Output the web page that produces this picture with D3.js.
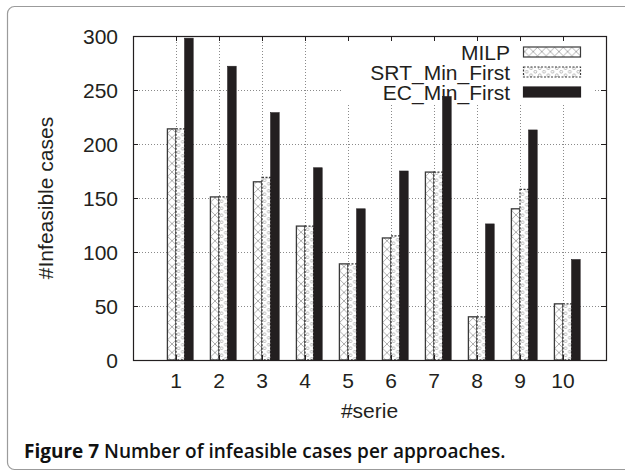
<!DOCTYPE html>
<html>
<head>
<meta charset="utf-8">
<script src="https://cdn.jsdelivr.net/npm/d3@7"></script>
<style>
    body { margin: 0; background: #fff; }
    svg { display: block; }
    .lbl { font-family: "Liberation Sans", Arial, sans-serif; fill: #231f20; }
    .cap { font-family: "Open Sans", "Noto Sans", sans-serif; fill: #111; }
</style>
</head>
<body>
<div id="chart"></div>
<script>
var series_names = ["1", "2", "3", "4", "5", "6", "7", "8", "9", "10"];
var milp_values = [214, 151, 165, 124, 89, 113, 174, 40, 140, 52];
var srt_values = [214, 151, 169, 124, 89, 115, 174, 40, 158, 52];
var ec_values = [298, 272, 229, 178, 140, 175, 244, 126, 213, 93];
var legend_labels = ["MILP", "SRT_Min_First", "EC_Min_First"];
var y_ticks = [0, 50, 100, 150, 200, 250, 300];

var width = 625;
var height = 474;
var plot_left = 133, plot_right = 606, plot_top = 36, plot_bottom = 360;
var font_px = 21;

var svg = d3.select("#chart").append("svg")
    .attr("width", width)
    .attr("height", height);

var defs = svg.append("defs");

// MILP: cross hatch
var hatch = defs.append("pattern")
    .attr("id", "pat_milp")
    .attr("patternUnits", "userSpaceOnUse")
    .attr("width", 8.6)
    .attr("height", 8.6);
hatch.append("rect").attr("width", 8.6).attr("height", 8.6).attr("fill", "#fff");
hatch.append("path")
    .attr("d", "M0,0L8.6,8.6M0,8.6L8.6,0")
    .attr("stroke", "#9a9a9a")
    .attr("stroke-width", 0.8);

// SRT: small circles
var dots = defs.append("pattern")
    .attr("id", "pat_srt")
    .attr("patternUnits", "userSpaceOnUse")
    .attr("width", 8.6)
    .attr("height", 7);
dots.append("rect").attr("width", 8.6).attr("height", 7).attr("fill", "#fff");
dots.append("circle").attr("cx", 2.2).attr("cy", 1.75).attr("r", 1.4)
    .attr("fill", "none").attr("stroke", "#a0a0a0").attr("stroke-width", 0.7);
dots.append("circle").attr("cx", 6.5).attr("cy", 5.25).attr("r", 1.4)
    .attr("fill", "none").attr("stroke", "#a0a0a0").attr("stroke-width", 0.7);

// outer figure frame (rounded, runs off the right edge)
svg.append("rect")
    .attr("x", 7.5)
    .attr("y", 6.5)
    .attr("width", 700)
    .attr("height", 463)
    .attr("rx", 7)
    .attr("fill", "none")
    .attr("stroke", "#9b9b9b")
    .attr("stroke-width", 1.2);

var x = d3.scaleLinear().domain([0, 11]).range([plot_left, plot_right]);
var y = d3.scaleLinear().domain([0, 300]).range([plot_bottom, plot_top]);
var bar_w = x(0.2) - x(0);

// grid
var grid = svg.append("g")
    .attr("stroke", "#8a8a8a")
    .attr("stroke-width", 1)
    .attr("stroke-dasharray", "1,2");

grid.selectAll("line.gy")
    .data(y_ticks.slice(1, -1))
    .enter().append("line")
    .attr("class", "gy")
    .attr("x1", plot_left)
    .attr("x2", plot_right)
    .attr("y1", function(d) { return Math.round(y(d)) + 0.5; })
    .attr("y2", function(d) { return Math.round(y(d)) + 0.5; });

grid.selectAll("line.gx")
    .data(series_names)
    .enter().append("line")
    .attr("class", "gx")
    .attr("x1", function(d, i) { return Math.round(x(i + 1)) + 0.5; })
    .attr("x2", function(d, i) { return Math.round(x(i + 1)) + 0.5; })
    .attr("y1", plot_top)
    .attr("y2", plot_bottom);

// key background hides the grid under it
var key_x1 = 343, key_x2 = 594, key_y2 = 103;
svg.append("rect")
    .attr("x", key_x1)
    .attr("y", plot_top + 1)
    .attr("width", key_x2 - key_x1)
    .attr("height", key_y2 - plot_top - 1)
    .attr("fill", "#fff");

function add_label(p_parent, p_x, p_y, p_text, p_anchor)
{
    return p_parent.append("text")
        .attr("class", "lbl")
        .attr("x", p_x)
        .attr("y", p_y)
        .attr("text-anchor", p_anchor)
        .style("font-size", font_px + "px")
        .text(p_text);
}

// key
var fills = ["url(#pat_milp)", "url(#pat_srt)", "#231f20"];
var strokes = ["#3a3a3a", "#3a3a3a", "#231f20"];
var dashes = [null, "2,1.5", null];
var key = svg.append("g");
for(var k = 0; k < legend_labels.length; k++)
{
    var row_y = 52 + k * 20;
    add_label(key, 510, row_y + 7.5, legend_labels[k], "end");
    key.append("rect")
        .attr("x", 523.5)
        .attr("y", row_y - 5)
        .attr("width", 57)
        .attr("height", 10)
        .attr("fill", fills[k])
        .attr("stroke", strokes[k])
        .attr("stroke-width", 1.2)
        .attr("stroke-dasharray", dashes[k]);
}

// bars
var bar_sets = [milp_values, srt_values, ec_values];
for(var s = 0; s < bar_sets.length; s++)
{
    svg.append("g").selectAll("rect")
        .data(bar_sets[s])
        .enter().append("rect")
        .attr("x", function(d, i) { return x(i + 1) + (s - 1) * bar_w; })
        .attr("y", function(d) { return y(d); })
        .attr("width", bar_w)
        .attr("height", function(d) { return y(0) - y(d); })
        .attr("fill", fills[s])
        .attr("stroke", strokes[s])
        .attr("stroke-width", s == 2 ? 0.6 : 1.3)
        .attr("stroke-dasharray", dashes[s]);
}

// plot border
svg.append("rect")
    .attr("x", plot_left + 0.5)
    .attr("y", plot_top + 0.5)
    .attr("width", plot_right - plot_left)
    .attr("height", plot_bottom - plot_top)
    .attr("fill", "none")
    .attr("stroke", "#231f20")
    .attr("stroke-width", 1.2);

// inward ticks on all four sides
var ticks = svg.append("g").attr("stroke", "#231f20").attr("stroke-width", 1);
y_ticks.forEach(function(t)
{
    var ty = Math.round(y(t)) + 0.5;
    ticks.append("line").attr("x1", plot_left).attr("x2", plot_left + 5).attr("y1", ty).attr("y2", ty);
    ticks.append("line").attr("x1", plot_right - 5).attr("x2", plot_right).attr("y1", ty).attr("y2", ty);
});
series_names.forEach(function(d, i)
{
    var tx = Math.round(x(i + 1)) + 0.5;
    ticks.append("line").attr("x1", tx).attr("x2", tx).attr("y1", plot_top).attr("y2", plot_top + 5);
    ticks.append("line").attr("x1", tx).attr("x2", tx).attr("y1", plot_bottom - 5).attr("y2", plot_bottom);
});

// tick labels
y_ticks.forEach(function(t)
{
    add_label(svg, 118, y(t) + 7.5, String(t), "end");
});
series_names.forEach(function(d, i)
{
    add_label(svg, x(i + 1), 388, d, "middle");
});

// axis titles
add_label(svg, (plot_left + plot_right) / 2, 418, "#serie", "middle");
svg.append("text")
    .attr("class", "lbl")
    .attr("transform", "translate(53," + (plot_top + plot_bottom) / 2 + ") rotate(-90)")
    .attr("text-anchor", "middle")
    .style("font-size", font_px + "px")
    .text("#Infeasible cases");

// caption
var cap = svg.append("text")
    .attr("class", "cap")
    .attr("x", 24)
    .attr("y", 458)
    .style("font-size", "19px");
cap.append("tspan").style("font-weight", 700).text("Figure 7");
cap.append("tspan").style("font-weight", 600).text(" Number of infeasible cases per approaches.");
</script>
</body>
</html>
